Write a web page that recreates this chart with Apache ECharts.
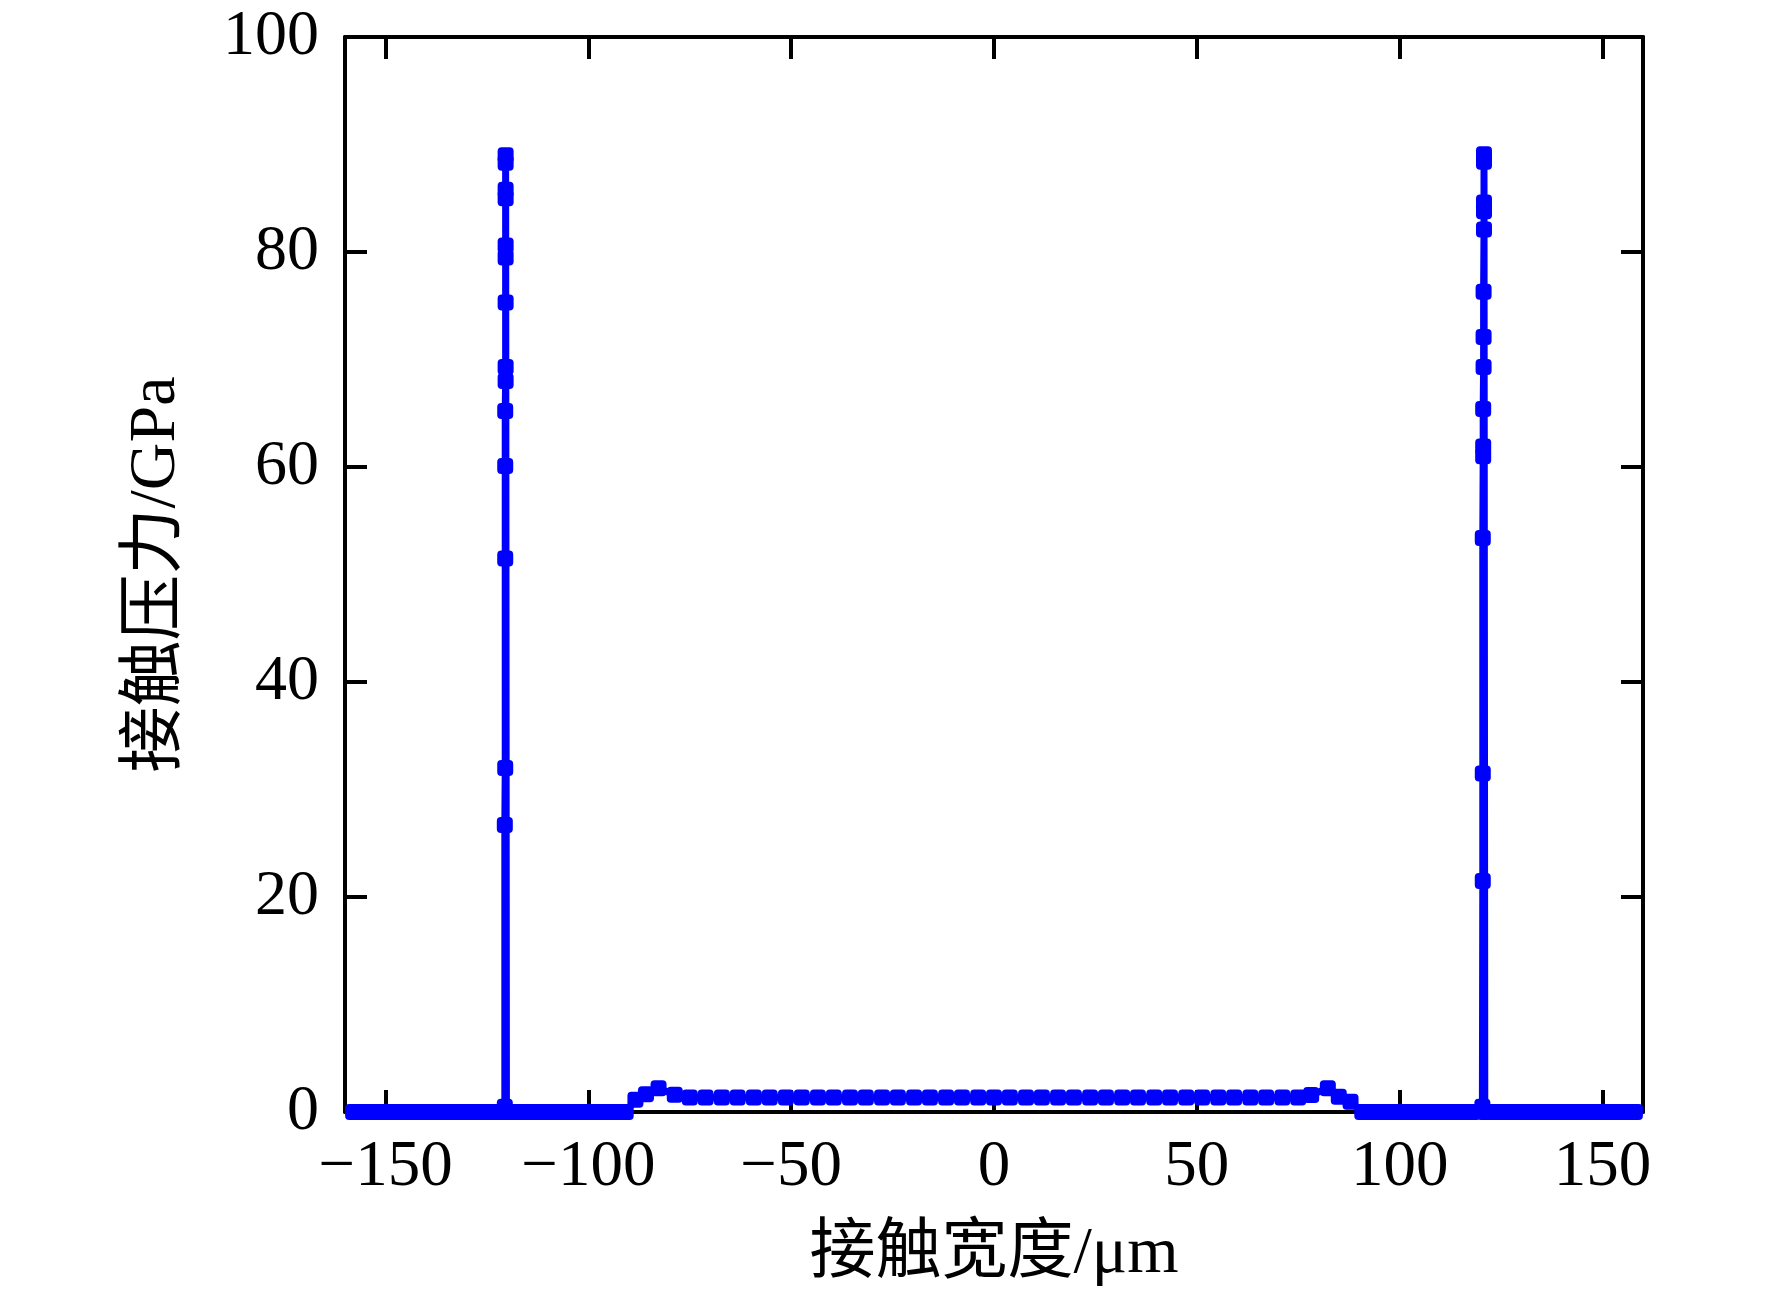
<!DOCTYPE html>
<html>
<head>
<meta charset="utf-8">
<script src="https://cdn.jsdelivr.net/npm/echarts@6/dist/echarts.min.js"></script>
<style>
html,body{margin:0;padding:0;background:#fff;}
#chart{width:1772px;height:1293px;}
</style>
</head>
<body>
<div id="chart"></div>
<script>
// ---- data ----
var xTickValues = [-150, -100, -50, 0, 50, 100, 150];
var yTickValues = [0, 20, 40, 60, 80, 100];

var leftZeroX = [-158,-156,-154,-152,-150,-148,-146,-144,-142,-140,-138,-136,-134,-132,-130,-128,-126,-124,-122];
var leftZeroY = [0,0,0,0,0,0,0,0,0,0,0,0,0,0,0,0,0,0,0];

var leftSpikeX = [-120.6,-120.6,-120.5,-120.5,-120.5,-120.5,-120.4,-120.4,-120.4,-120.4,-120.4,-120.4,-120.4,-120.4,-120.4,-120.2];
var leftSpikeY = [0.5,26.7,32.0,51.5,60.1,65.2,68.0,69.3,75.3,79.5,80.6,85.0,85.8,88.3,89.0,0];

var leftGapX = [-118,-116,-114,-112,-110,-108,-106,-104,-102,-100,-98,-96,-94,-92,-90.8];
var leftGapY = [0,0,0,0,0,0,0,0,0,0,0,0,0,0,0];

var leftEdgeX = [-88.4,-85.8,-82.7,-78.7];
var leftEdgeY = [1.15,1.65,2.2,1.6];

var plateauX = [-75,-71.1,-67.1,-63.2,-59.2,-55.3,-51.3,-47.4,-43.4,-39.5,-35.5,-31.6,-27.6,-23.7,-19.7,-15.8,-11.8,-7.9,-3.9,0,3.9,7.9,11.8,15.8,19.7,23.7,27.6,31.6,35.5,39.5,43.4,47.4,51.3,55.3,59.2,63.2,67.1,71.1,75];
var plateauY = [1.35,1.35,1.35,1.35,1.35,1.35,1.35,1.35,1.35,1.35,1.35,1.35,1.35,1.35,1.35,1.35,1.35,1.35,1.35,1.35,1.35,1.35,1.35,1.35,1.35,1.35,1.35,1.35,1.35,1.35,1.35,1.35,1.35,1.35,1.35,1.35,1.35,1.35,1.35];

var rightEdgeX = [78.2,82.3,85.0,87.9];
var rightEdgeY = [1.58,2.2,1.43,0.95];

var rightGapX = [90.8,92,94,96,98,100,102,104,106,108,110,112,114,116,118];
var rightGapY = [0,0,0,0,0,0,0,0,0,0,0,0,0,0,0];

var rightSpikeX = [120.4,120.5,120.5,120.5,120.6,120.6,120.6,120.7,120.7,120.7,120.8,120.8,120.8,120.8,120.8,121.0];
var rightSpikeY = [0.5,21.5,31.5,53.4,61.0,61.9,65.4,69.3,72.1,76.3,82.1,83.8,84.6,88.4,89.1,0];

var rightZeroX = [122,124,126,128,130,132,134,136,138,140,142,144,146,148,150,152,154,156,158];
var rightZeroY = [0,0,0,0,0,0,0,0,0,0,0,0,0,0,0,0,0,0,0];

var xTitle = '接触宽度/μm';
var yTitle = '接触压力/GPa';

// ---- build ----
var allX = [].concat(leftZeroX, leftSpikeX, leftGapX, leftEdgeX, plateauX, rightEdgeX, rightGapX, rightSpikeX, rightZeroX);
var allY = [].concat(leftZeroY, leftSpikeY, leftGapY, leftEdgeY, plateauY, rightEdgeY, rightGapY, rightSpikeY, rightZeroY);
var seriesData = allX.map(function (x, i) { return [x, allY[i]]; });

var FONT = '"Liberation Serif", "Times New Roman", "Noto Sans CJK SC", serif';
var lineStyle = { color: '#000', width: 4 };
var tickStyle = { color: '#000', width: 4 };

function fmtX(v) { return v < 0 ? '\u2212' + Math.abs(v) : String(v); }

var chart = echarts.init(document.getElementById('chart'), null, { renderer: 'canvas' });
chart.setOption({
  animation: false,
  backgroundColor: '#fff',
  grid: { left: 345, top: 37, right: 129, bottom: 181, containLabel: false },
  xAxis: [{
    type: 'value', min: -160, max: 160, position: 'bottom',
    name: xTitle, nameLocation: 'middle', nameGap: 110,
    nameTextStyle: { fontFamily: FONT, fontSize: 66, color: '#000' },
    axisLine: { show: true, onZero: false, lineStyle: lineStyle },
    axisTick: { show: true, inside: true, length: 22, lineStyle: tickStyle, customValues: xTickValues },
    axisLabel: { show: true, margin: 23, fontFamily: FONT, fontSize: 65, color: '#000', customValues: xTickValues, formatter: fmtX },
    splitLine: { show: false }
  }, {
    type: 'value', min: -160, max: 160, position: 'top',
    axisLine: { show: true, onZero: false, lineStyle: lineStyle },
    axisTick: { show: true, inside: true, length: 22, lineStyle: tickStyle, customValues: xTickValues },
    axisLabel: { show: false },
    splitLine: { show: false }
  }],
  yAxis: [{
    type: 'value', min: 0, max: 100, interval: 20, position: 'left',
    name: yTitle, nameLocation: 'middle', nameGap: 155, nameRotate: 90,
    nameTextStyle: { fontFamily: FONT, fontSize: 66, color: '#000' },
    axisLine: { show: true, onZero: false, lineStyle: lineStyle },
    axisTick: { show: true, inside: true, length: 22, lineStyle: tickStyle },
    axisLabel: { show: true, margin: 26, fontFamily: FONT, fontSize: 64, color: '#000' },
    splitLine: { show: false }
  }, {
    type: 'value', min: 0, max: 100, interval: 20, position: 'right',
    axisLine: { show: true, onZero: false, lineStyle: lineStyle },
    axisTick: { show: true, inside: true, length: 22, lineStyle: tickStyle },
    axisLabel: { show: false },
    splitLine: { show: false }
  }],
  series: [{
    type: 'line',
    xAxisIndex: 0, yAxisIndex: 0,
    data: seriesData,
    clip: false,
    symbol: 'roundRect',
    symbolSize: 16,
    showAllSymbol: true,
    lineStyle: { color: '#0000ff', width: 7 },
    itemStyle: { color: '#0000ff' },
    z: 5
  }]
});
</script>
</body>
</html>
